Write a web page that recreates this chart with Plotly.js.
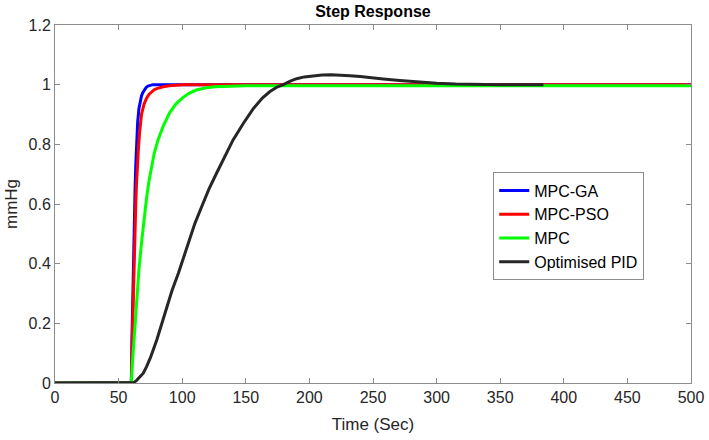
<!DOCTYPE html>
<html>
<head>
<meta charset="utf-8">
<script src="https://cdn.plot.ly/plotly-3.0.1.min.js"></script>
<style>html,body{margin:0;padding:0;background:#fff;}#chart{width:709px;height:440px;}</style>
</head>
<body>
<div id="chart"></div>
<script>
// Series data (time in s, response in mmHg)
const gaT  = [0, 60, 60.5, 61, 61.5, 62, 62.5, 63, 63.5, 64, 64.5, 65, 66, 67, 68, 69, 70, 71.5, 73, 75, 77, 80, 500];
const gaV  = [0, 0, 0.15, 0.28, 0.40, 0.50, 0.59, 0.66, 0.73, 0.79, 0.84, 0.875, 0.92, 0.945, 0.962, 0.973, 0.982, 0.99, 0.995, 0.998, 1.0, 1.0, 1.0];

const psoT = [0, 60, 60.5, 61, 61.5, 62, 62.5, 63, 63.5, 64, 64.5, 65, 65.5, 66.5, 68, 70, 72, 74, 76, 78, 80, 85, 90, 95, 100, 500];
const psoV = [0, 0, 0.10, 0.20, 0.30, 0.39, 0.46, 0.53, 0.60, 0.66, 0.72, 0.75, 0.78, 0.84, 0.90, 0.935, 0.955, 0.968, 0.977, 0.983, 0.987, 0.993, 0.996, 0.998, 1.0, 1.0];

const mpcT = [0, 60, 61, 62, 63, 64, 65, 66, 68, 70, 72, 74, 76, 78, 81, 85, 90, 95, 100, 105, 111, 118, 125, 135, 150, 500];
const mpcV = [0, 0, 0.075, 0.14, 0.21, 0.27, 0.33, 0.38, 0.47, 0.55, 0.62, 0.68, 0.73, 0.77, 0.815, 0.86, 0.905, 0.935, 0.955, 0.97, 0.982, 0.989, 0.993, 0.995, 0.996, 0.996];

const pidT = [0, 60, 62, 64, 66, 69.4, 72, 75, 80, 84, 87.8, 92, 97, 101, 105.6, 110, 115.3, 121, 127, 133, 140, 148, 156, 163, 169, 175, 179.5, 185, 190, 196, 203, 210, 217, 224, 232, 240, 248, 258, 271, 284, 300, 315, 330, 350, 384];
const pidV = [0, 0, 0.002, 0.008, 0.018, 0.033, 0.055, 0.085, 0.144, 0.20, 0.256, 0.31, 0.368, 0.42, 0.479, 0.535, 0.591, 0.65, 0.703, 0.755, 0.815, 0.87, 0.92, 0.955, 0.977, 0.993, 1.0, 1.012, 1.02, 1.026, 1.03, 1.032, 1.033, 1.032, 1.03, 1.027, 1.023, 1.019, 1.014, 1.009, 1.005, 1.002, 1.001, 1.0, 1.0];

const seriesNames = ['MPC-GA', 'MPC-PSO', 'MPC', 'Optimised PID'];
const xTicks = [0, 50, 100, 150, 200, 250, 300, 350, 400, 450, 500];
const yTicks = [0, 0.2, 0.4, 0.6, 0.8, 1, 1.2];
const yTickText = ['0', '0.2', '0.4', '0.6', '0.8', '1', '1.2'];

const colors = ['#0000ff', '#ff0000', '#00ff00', '#262626'];
const xs = [gaT, psoT, mpcT, pidT];
const ys = [gaV, psoV, mpcV, pidV];

const traces = seriesNames.map((n, i) => ({
  x: xs[i], y: ys[i], name: n, type: 'scatter', mode: 'lines',
  line: {color: colors[i], width: 3}
}));

const F = 'Liberation Sans, Arial, sans-serif';
const axisCommon = {
  showgrid: false, zeroline: false, showline: true, linecolor: '#8c8c8c', linewidth: 1,
  mirror: 'ticks', ticks: 'inside', ticklen: 5, tickcolor: '#8c8c8c',
  tickfont: {family: F, size: 16, color: '#262626'}
};

const layout = {
  width: 709, height: 440,
  margin: {l: 55, r: 18, t: 25, b: 57},
  paper_bgcolor: '#fff', plot_bgcolor: '#fff',
  title: {text: '<b>Step Response</b>', x: 0.526, xanchor: 'center', y: 0.975, yanchor: 'middle',
          font: {family: F, size: 16, color: '#000'}},
  xaxis: Object.assign({}, axisCommon, {range: [0, 500], tickvals: xTicks, ticktext: xTicks.map(String),
          title: {text: 'Time (Sec)', standoff: 12, font: {family: F, size: 17, color: '#262626'}}}),
  yaxis: Object.assign({}, axisCommon, {range: [0, 1.2], tickvals: yTicks, ticktext: yTickText,
          title: {text: 'mmHg', standoff: 6, font: {family: F, size: 17, color: '#262626'}}}),
  showlegend: true,
  legend: {x: 0.689, y: 0.588, xanchor: 'left', yanchor: 'top', bgcolor: '#fff',
           bordercolor: '#8c8c8c', borderwidth: 1, tracegroupgap: 0, itemwidth: 30,
           font: {family: F, size: 16, color: '#000'}}
};

Plotly.newPlot('chart', traces, layout, {displayModeBar: false, staticPlot: true});
</script>
</body>
</html>
